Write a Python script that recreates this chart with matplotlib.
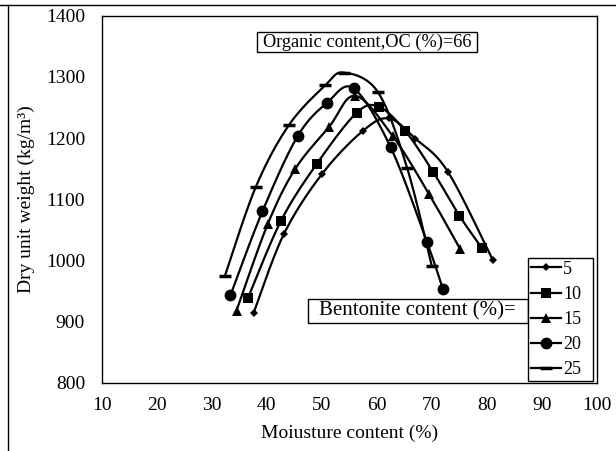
import numpy as np
import matplotlib
matplotlib.use("Agg")
import matplotlib.pyplot as plt
from matplotlib.lines import Line2D
from matplotlib.patches import Rectangle

plt.rcParams['font.family'] = ['Liberation Serif', 'DejaVu Serif']

# Compaction curves: moisture content (%) vs dry unit weight (kg/m3)
mc_5 = [37.6, 43.1, 50.1, 57.5, 62.2, 67.0, 72.9, 81.1]
dw_5 = [914, 1043, 1142, 1212, 1232, 1199, 1145, 1000]

mc_10 = [36.6, 42.6, 49.1, 56.3, 60.4, 65.2, 70.2, 75.0, 79.1]
dw_10 = [939, 1065, 1158, 1241, 1251, 1211, 1145, 1073, 1020]

mc_15 = [34.5, 40.2, 45.2, 51.3, 56.1, 62.9, 69.5, 75.1]
dw_15 = [918, 1060, 1150, 1218, 1269, 1203, 1108, 1019]

mc_20 = [33.4, 39.2, 45.6, 51.0, 55.8, 62.5, 69.1, 72.0]
dw_20 = [943, 1080, 1203, 1258, 1281, 1185, 1030, 953]

mc_25 = [32.4, 38.0, 44.0, 50.6, 54.0, 60.2, 65.5, 70.0]
dw_25 = [975, 1120, 1221, 1286, 1307, 1275, 1151, 990]

bentonite_labels = ['5', '10', '15', '20', '25']
x_ticks = [10, 20, 30, 40, 50, 60, 70, 80, 90, 100]
y_ticks = [800, 900, 1000, 1100, 1200, 1300, 1400]

series = [
    (mc_5, dw_5, dict(marker='D', ms=4.5, mew=0)),
    (mc_10, dw_10, dict(marker='s', ms=7.5, mew=0)),
    (mc_15, dw_15, dict(marker='^', ms=6.5, mew=0)),
    (mc_20, dw_20, dict(marker='o', ms=8.5, mew=0)),
    (mc_25, dw_25, dict(marker='_', ms=9, mew=2.5)),
]


def smooth_curve(x, y, steps=24):
    """Smoothed line through the points (cubic Bezier, Catmull-Rom tangents)."""
    p = np.column_stack([x, y]).astype(float)
    n = len(p)
    out = []
    t = np.linspace(0, 1, steps)[:, None]
    for i in range(n - 1):
        p0 = p[i - 1] if i > 0 else p[i]
        p1 = p[i]
        p2 = p[i + 1]
        p3 = p[i + 2] if i + 2 < n else p[i + 1]
        c1 = p1 + (p2 - p0) / 6.0
        c2 = p2 - (p3 - p1) / 6.0
        seg = ((1 - t) ** 3) * p1 + 3 * ((1 - t) ** 2) * t * c1 + 3 * (1 - t) * t ** 2 * c2 + t ** 3 * p2
        out.append(seg if i == 0 else seg[1:])
    c = np.vstack(out)
    return c[:, 0], c[:, 1]


W, H = 616, 451
fig = plt.figure(figsize=(W / 100, H / 100), dpi=100)
ax_l, ax_r, ax_t, ax_b = 101.7, 597.0, 15.7, 382.7
ax = fig.add_axes([ax_l / W, 1 - ax_b / H, (ax_r - ax_l) / W, (ax_b - ax_t) / H])

handles = []
for x, y, mk in series:
    sx, sy = smooth_curve(x, y)
    ax.plot(sx, sy, color='black', lw=1.6, solid_capstyle='butt')
    ax.plot(x, y, linestyle='none', color='black', mfc='black', mec='black', **mk)
    handles.append(Line2D([], [], color='black', lw=1.6, mfc='black', mec='black', **mk))

ax.set_xlim(10, 100)
ax.set_ylim(800, 1400)
ax.set_xticks(x_ticks)
ax.set_yticks(y_ticks)
ax.tick_params(axis='both', length=0, labelsize=14)
ax.tick_params(axis='x', pad=10)
ax.tick_params(axis='y', pad=12)
for s in ax.spines.values():
    s.set_linewidth(1.0)
    s.set_color('black')

ax.set_xlabel('Moiusture content (%)', fontsize=14, labelpad=8)
ax.set_ylabel('Dry unit weight (kg/m³)', fontsize=14, labelpad=8)


def px_box(x0, y0, x1, y1):
    """Axes-fraction rectangle from pixel corners."""
    fx0 = (x0 - ax_l) / (ax_r - ax_l)
    fx1 = (x1 - ax_l) / (ax_r - ax_l)
    fy0 = (ax_b - y1) / (ax_b - ax_t)
    fy1 = (ax_b - y0) / (ax_b - ax_t)
    return fx0, fy0, fx1 - fx0, fy1 - fy0


# Annotation boxes
for (x0, y0, x1, y1), txt, fs in [((257.4, 32, 477, 52), 'Organic content,OC (%)=66', 13.2),
                                  ((307.6, 299, 528, 323), 'Bentonite content (%)=', 15)]:
    bx, by, bw, bh = px_box(x0, y0, x1, y1)
    ax.add_patch(Rectangle((bx, by), bw, bh, transform=ax.transAxes, fill=True,
                           facecolor='white', edgecolor='black', lw=1.0, zorder=5))
    ax.text(bx + bw / 2, by + bh / 2, txt, transform=ax.transAxes, ha='center',
            va='center', fontsize=fs, zorder=6)

lx, ly, lw_, lh = px_box(528, 257, 593, 381)
leg = ax.legend(handles, bentonite_labels, loc='lower left',
                bbox_to_anchor=(lx, ly, lw_, lh), mode='expand', fontsize=13,
                handlelength=1.7, handletextpad=0.1, labelspacing=0.45,
                borderpad=0.15, borderaxespad=0, fancybox=False, framealpha=1,
                edgecolor='black')
leg.get_frame().set_linewidth(1.0)
leg.set_zorder(7)

# Outer frame lines of the figure
fig.add_artist(Line2D([0, 1], [1 - 5 / H, 1 - 5 / H], transform=fig.transFigure, color='black', lw=1.0))
fig.add_artist(Line2D([8 / W, 8 / W], [0, 1 - 5 / H], transform=fig.transFigure, color='black', lw=1.0))

fig.savefig('out.png', dpi=100)
